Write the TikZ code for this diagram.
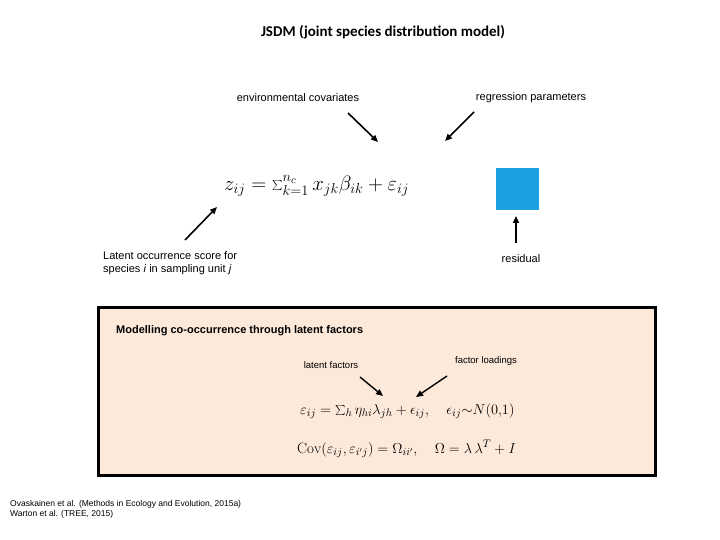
\documentclass[tikz,border=0pt]{standalone}
\usepackage{fontspec}
\setsansfont{Liberation Sans}
\newfontfamily\titlefont{Carlito}
\usetikzlibrary{arrows.meta}
\definecolor{peach}{HTML}{FCE9DA}
\definecolor{hiblue}{HTML}{1BA1E2}
\begin{document}
\begin{tikzpicture}[x=1pt,y=-1pt,
  lbl/.style={font=\sffamily\fontsize{11}{13}\selectfont, inner sep=0pt},
  arr/.style={-{Triangle[length=7pt,width=6pt]}, line width=1.6pt}]
\useasboundingbox (0,0) rectangle (720,540);
\node[font=\titlefont\bfseries\fontsize{15}{18}\selectfont] (title) at (383,32) {JSDM (joint species distribution model)};
\node[lbl] (env) at (298,98) {environmental covariates};
\node[lbl] (reg) at (531,98) {regression parameters};
\node[fill=hiblue, minimum width=43pt, minimum height=42pt, inner sep=0pt] (hl) at (517.5,189) {};
\node[font=\fontsize{22}{26}\selectfont, inner sep=0pt, anchor=west] (eq) at (224,186) {$z_{ij} = \textstyle\sum_{k=1}^{n_c} x_{jk}\beta_{ik} + \varepsilon_{ij}$};
\node[lbl, align=left, anchor=west] (lat) at (103,263) {Latent occurrence score for\\species \textit{i} in sampling unit \textit{j}};
\node[lbl] (res) at (521,259) {residual};
\coordinate (envS) at (348,113); \coordinate (envE) at (378,142);
\coordinate (regS) at (474,112); \coordinate (regE) at (445,141);
\coordinate (latS) at (185,240); \coordinate (latE) at (217,207);
\coordinate (resS) at (516,243); \coordinate (resE) at (516,216);
\draw[arr] (envS) -- (envE);
\draw[arr] (regS) -- (regE);
\draw[arr] (latS) -- (latE);
\draw[arr] (resS) -- (resE);
\node[draw=black, line width=2.5pt, fill=peach, minimum width=557pt, minimum height=168pt, inner sep=0pt, anchor=north west] (box) at (97,306) {};
\node[font=\sffamily\bfseries\fontsize{11}{13}\selectfont, anchor=west, inner sep=0pt] (bt) at (116,331) {Modelling co-occurrence through latent factors};
\node[lbl, font=\sffamily\fontsize{9.5}{11}\selectfont] (lf) at (331,365) {latent factors};
\node[lbl, font=\sffamily\fontsize{9.5}{11}\selectfont] (fl) at (486,361) {factor loadings};
\coordinate (lfS) at (360,377); \coordinate (lfE) at (383,396);
\coordinate (flS) at (447,376); \coordinate (flE) at (416,397);
\draw[arr, line width=1.4pt] (lfS) -- (lfE);
\draw[arr, line width=1.4pt] (flS) -- (flE);
\node[font=\fontsize{15}{18}\selectfont, anchor=west, inner sep=0pt] (e1) at (300,411) {$\varepsilon_{ij} = \textstyle\sum_h \eta_{hi}\lambda_{jh} + \epsilon_{ij},\quad \epsilon_{ij}{\sim}N(0{,}1)$};
\node[font=\fontsize{15}{18}\selectfont, anchor=west, inner sep=0pt] (e2) at (297,449) {$\mathrm{Cov}(\varepsilon_{ij},\varepsilon_{i'j}) = \Omega_{ii'},\quad \Omega = \lambda\,\lambda^T + I$};
\node[lbl, font=\sffamily\fontsize{8.5}{10.5}\selectfont, align=left, anchor=north west] (ref) at (10,500) {Ovaskainen et al. (Methods in Ecology and Evolution, 2015a)\\Warton et al. (TREE, 2015)};
\end{tikzpicture}
\end{document}
